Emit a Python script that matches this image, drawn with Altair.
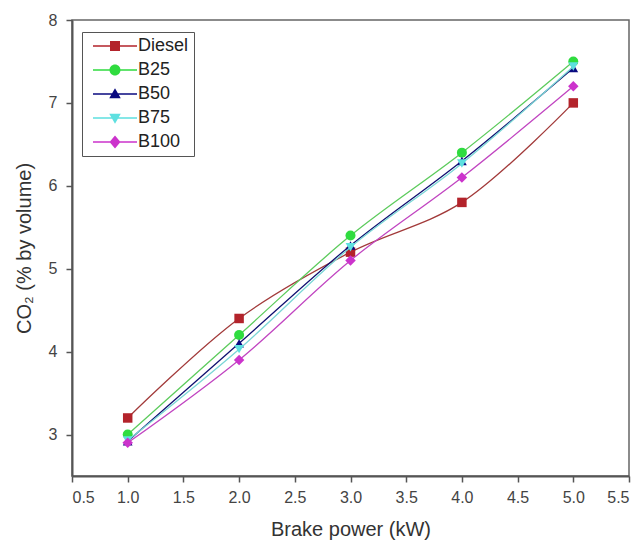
import altair as alt
import pandas as pd

# ---- data ----
power = [1.0, 2.0, 3.0, 4.0, 5.0]
diesel = [3.2, 4.4, 5.2, 5.8, 7.0]
b25 = [3.0, 4.2, 5.4, 6.4, 7.5]
b50 = [2.92, 4.1, 5.28, 6.3, 7.42]
b75 = [2.93, 4.03, 5.26, 6.27, 7.44]
b100 = [2.9, 3.9, 5.1, 6.1, 7.2]

fuels = ["Diesel", "B25", "B50", "B75", "B100"]
series_values = [diesel, b25, b50, b75, b100]
marker_colors = ["#B3232B", "#2FDC3F", "#0A0A80", "#5EE0E0", "#CC33CC"]
line_colors = ["#A23A3A", "#5CCB5C", "#101070", "#7AD6D6", "#C145C1"]
marker_shapes = ["square", "circle", "triangle-up", "triangle-down", "diamond"]
marker_sizes = [90, 100, 95, 95, 110]

# legend glyphs: short line + marker (unit = sqrt(size)/2)
LINE = "M-4.4,-0.14H4.4V0.14H-4.4Z"
legend_paths = [
    LINE + "M-1,-1H1V1H-1Z",
    LINE + "M-1.1,0A1.1,1.1,0,1,1,1.1,0A1.1,1.1,0,1,1,-1.1,0Z",
    LINE + "M0,-1.15L1.15,0.85L-1.15,0.85Z",
    LINE + "M0,1.15L-1.15,-0.85L1.15,-0.85Z",
    LINE + "M0,-1.3L1.1,0L0,1.3L-1.1,0Z",
]

x_ticks = [0.5, 1.0, 1.5, 2.0, 2.5, 3.0, 3.5, 4.0, 4.5, 5.0, 5.5]
y_ticks = [3, 4, 5, 6, 7, 8]

rows = []
for f, vals in zip(fuels, series_values):
    for p, v in zip(power, vals):
        rows.append({"power": p, "co2": v, "fuel": f})
df = pd.DataFrame(rows)

FONT = "Liberation Sans"

x_enc = alt.X(
    "power:Q",
    scale=alt.Scale(domain=[0.5, 5.5], nice=False, zero=False),
    axis=alt.Axis(values=x_ticks, format=".1f", title="Brake power (kW)",
                  titlePadding=14),
)
y_enc = alt.Y(
    "co2:Q",
    scale=alt.Scale(domain=[2.5, 8], nice=False, zero=False),
    axis=alt.Axis(values=y_ticks, format="d", title="CO₂ (% by volume)",
                  titlePadding=14),
)

base = alt.Chart(df)
layers = []
for f, lc, mc, sh, sz in zip(fuels, line_colors, marker_colors, marker_shapes, marker_sizes):
    sub = base.transform_filter(alt.datum.fuel == f)
    layers.append(
        sub.mark_line(color=lc, strokeWidth=1.3, interpolate="catmull-rom")
        .encode(x=x_enc, y=y_enc)
    )
    layers.append(
        sub.mark_point(shape=sh, filled=True, color=mc, size=sz, opacity=1)
        .encode(x=x_enc, y=y_enc)
    )

legend_props = dict(
    title=None,
    orient="none",
    legendX=10,
    legendY=12,
    symbolSize=100,
    symbolOffset=19,
    labelOffset=14,
    rowPadding=6,
    padding=5,
    labelFont=FONT,
    labelFontSize=18,
    labelColor="#222",
    strokeColor="#555",
    fillColor="white",
    symbolStrokeWidth=0,
)

legend_layer = (
    base.transform_filter(alt.datum.co2 < 0)
    .mark_point(filled=True, opacity=1)
    .encode(
        x=x_enc,
        y=y_enc,
        color=alt.Color("fuel:N", scale=alt.Scale(domain=fuels, range=marker_colors),
                        legend=alt.Legend(**legend_props)),
        shape=alt.Shape("fuel:N", scale=alt.Scale(domain=fuels, range=legend_paths),
                        legend=alt.Legend(**legend_props)),
    )
)

chart = (
    alt.layer(*layers, legend_layer)
    .properties(
        width=557,
        height=456,
        autosize=alt.AutoSizeParams(type="none"),
        padding={"left": 72, "top": 20, "right": 15, "bottom": 64},
        background="white",
    )
    .configure_view(stroke="#666", strokeWidth=1.5)
    .configure_axis(
        grid=False,
        domainColor="#555",
        domainWidth=2,
        tickColor="#555",
        tickWidth=1.5,
        tickSize=6,
        labelFont=FONT,
        labelFontSize=16,
        labelColor="#444",
        labelPadding=7,
        titleFont=FONT,
        titleFontSize=20,
        titleFontWeight="normal",
        titleColor="#333",
    )
    .configure_axisY(labelPadding=9)
)

chart.save("out.html", embed_options={"renderer": "svg", "actions": False})
